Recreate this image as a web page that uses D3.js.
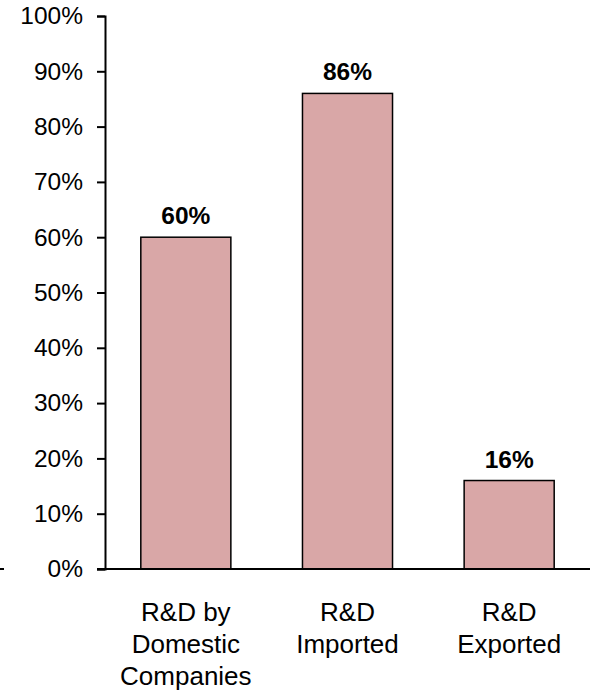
<!DOCTYPE html>
<html>
<head>
<meta charset="utf-8">
<script src="https://cdn.jsdelivr.net/npm/d3@7"></script>
<style>
  html, body { margin: 0; padding: 0; background: #fff; }
  svg { display: block; }
  text { font-family: Arial, "Liberation Sans", sans-serif; fill: #000; }
</style>
</head>
<body>
<svg id="chart" width="590" height="691"></svg>
<script>
// R&D shares by category
const categories = [["R&D by", "Domestic", "Companies"], ["R&D", "Imported"], ["R&D", "Exported"]];
const values = [60, 86, 16];
const yTicks = [0, 10, 20, 30, 40, 50, 60, 70, 80, 90, 100];

const svg = d3.select("#chart");
const margin = { left: 105, right: 0, top: 16, bottom: 122 };
const W = 590, H = 691;

const x = d3.scaleBand()
  .domain(d3.range(categories.length))
  .range([margin.left, W - margin.right])
  .paddingInner(0.443)
  .paddingOuter(0.2215);

const y = d3.scaleLinear().domain([0, 100]).range([H - margin.bottom, margin.top]);

// bars
svg.append("g").selectAll("rect")
  .data(values)
  .join("rect")
  .attr("x", (d, i) => x(i))
  .attr("y", d => y(d))
  .attr("width", x.bandwidth())
  .attr("height", d => y(0) - y(d))
  .attr("fill", "#d9a7a7")
  .attr("stroke", "#000")
  .attr("stroke-width", 1.5);

// y axis
const yAxis = d3.axisLeft(y)
  .tickValues(yTicks)
  .tickFormat(d => d + "%")
  .tickSize(8)
  .tickPadding(14);
const gy = svg.append("g").attr("transform", `translate(${margin.left},0)`).call(yAxis);
gy.select(".domain").attr("stroke", "#000").attr("stroke-width", 2);
gy.selectAll(".tick line").attr("stroke", "#000").attr("stroke-width", 2);
gy.selectAll(".tick text").attr("font-size", 24.5).attr("font-family", "Arial, 'Liberation Sans', sans-serif").attr("fill", "#000");

// baseline
svg.append("line")
  .attr("x1", margin.left - 8).attr("x2", W)
  .attr("y1", y(0)).attr("y2", y(0))
  .attr("stroke", "#000").attr("stroke-width", 2);

// short line segment at far left edge
svg.append("line")
  .attr("x1", 0).attr("x2", 4)
  .attr("y1", y(0)).attr("y2", y(0))
  .attr("stroke", "#000").attr("stroke-width", 2);

// value labels
svg.append("g").selectAll("text")
  .data(values)
  .join("text")
  .attr("x", (d, i) => x(i) + x.bandwidth() / 2)
  .attr("y", d => y(d) - 13)
  .attr("text-anchor", "middle")
  .attr("font-size", 24.5)
  .attr("font-weight", "bold")
  .text(d => d + "%");

// category labels
const cat = svg.append("g").selectAll("text")
  .data(categories)
  .join("text")
  .attr("x", (d, i) => x(i) + x.bandwidth() / 2)
  .attr("y", 621)
  .attr("text-anchor", "middle")
  .attr("font-size", 26);
cat.selectAll("tspan")
  .data(d => d)
  .join("tspan")
  .attr("x", function () { return d3.select(this.parentNode).attr("x"); })
  .attr("dy", (d, i) => i === 0 ? 0 : 32)
  .text(d => d);
</script>
</body>
</html>
